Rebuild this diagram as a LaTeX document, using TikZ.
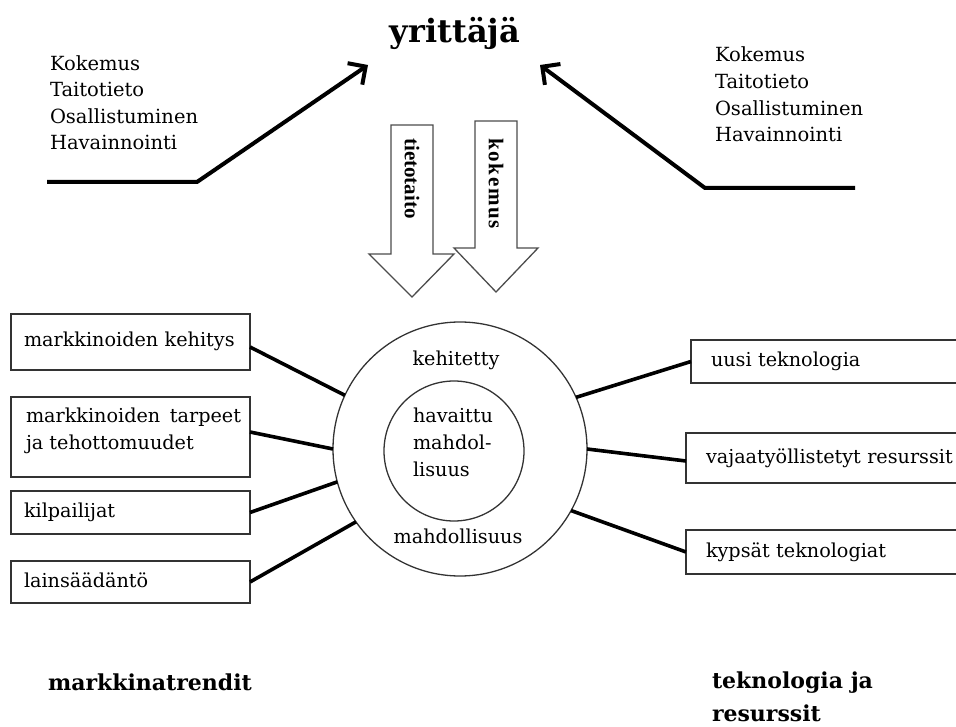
\documentclass[tikz,border=0pt]{standalone}
\usepackage{fontspec}
\setmainfont{DejaVu Serif}
\newfontfamily\arrowfont{Liberation Serif}
\newfontfamily\arrowfontwide{Liberation Serif}[LetterSpace=8]
\usetikzlibrary{arrows.meta,calc}
\begin{document}
\begin{tikzpicture}[x=1pt,y=-1pt,
  every node/.style={inner sep=0pt, outer sep=0pt, text=black},
  listtxt/.style={anchor=base west, font=\fontsize{19.5}{24}\selectfont},
  boxtxt/.style={font=\fontsize{19.2}{27}\selectfont},
  markbox/.style={draw=black!80, line width=1.3pt, rectangle, anchor=west,
    inner xsep=13pt, text width=213pt, align=left, text height=14pt, text depth=4pt,
    font=\fontsize{19.2}{27}\selectfont},
  techbox/.style={markbox, inner xsep=20pt, text width=260pt},
  ring/.style={draw=black!80, line width=1.3pt, circle},
  feed/.style={line width=4pt, black, line join=miter,
    -{Straight Barb[length=13pt,width=26pt,line width=4pt]}},
  link/.style={line width=3.6pt, black},
  blockarrow/.style={draw=black!70, line width=1.3pt, fill=white, line join=miter},
  arrowlabel/.style={rotate=-90},
  heading/.style={font=\bfseries\fontsize{22}{33}\selectfont, align=left},
]
\useasboundingbox (0,0) rectangle (956,727);
\clip (0,0) rectangle (956,727);

% title
\node[font=\bfseries\fontsize{32}{36}\selectfont, anchor=base] (title) at (455,43) {yrittäjä};

% experience lists
\node[listtxt] (kl1) at (50,70.5) {Kokemus};
\node[listtxt] (kl2) at (50,97) {Taitotieto};
\node[listtxt] (kl3) at (50,124) {Osallistuminen};
\node[listtxt] (kl4) at (50,150) {Havainnointi};
\node[listtxt] (kr1) at (715,62) {Kokemus};
\node[listtxt] (kr2) at (715,89) {Taitotieto};
\node[listtxt] (kr3) at (715,116) {Osallistuminen};
\node[listtxt] (kr4) at (715,142) {Havainnointi};

% feed lines towards the entrepreneur
\coordinate (lA) at (47,182);
\coordinate (lB) at (197,182);
\coordinate (lC) at (368,65);
\coordinate (rA) at (855,188);
\coordinate (rB) at (705,188);
\coordinate (rC) at (540,65);
\draw[feed] (lA) -- (lB) -- (lC);
\draw[feed] (rA) -- (rB) -- (rC);

% block arrows
\draw[blockarrow] (391,125) -- (433,125) -- (433,254) -- (454,254) -- (412,297)
  -- (369,254) -- (391,254) -- cycle;
\draw[blockarrow] (475,121) -- (517,121) -- (517,248) -- (538,248) -- (496,292)
  -- (454,248) -- (475,248) -- cycle;
\node[arrowlabel, font=\arrowfont\bfseries\fontsize{21}{22}\selectfont] (tt) at (412,178.5) {tietotaito};
\node[arrowlabel, font=\arrowfontwide\bfseries\fontsize{21}{22}\selectfont] (ko) at (496,183.5) {kokemus};

% opportunity rings
\node[ring, minimum size=254pt] (outer) at (460,449) {};
\node[ring, minimum size=140pt] (inner) at (454,451) {};
\node[boxtxt, anchor=base] (dev) at (456,365) {kehitetty};
\node[boxtxt, anchor=base] (opp) at (458,543) {mahdollisuus};
\node[boxtxt, anchor=north west, align=left] (seen) at (413,408)
  {havaittu\\mahdol-\\lisuus};

% market trend boxes
\node[markbox, minimum height=56pt] (b1) at (11,342) {\makebox[213pt][s]{markkinoiden kehitys}};
\node[markbox, minimum height=80pt] (b2) at (11,437) {};
\node[boxtxt, anchor=north west, align=left] (b2t) at (26,408)
  {\makebox[215pt][s]{markkinoiden tarpeet}\\ja tehottomuudet};
\node[markbox, minimum height=43pt] (b3) at (11,512.5) {kilpailijat};
\node[markbox, minimum height=42pt] (b4) at (11,582) {lainsäädäntö};

% technology boxes
\node[techbox, minimum height=43pt] (r1) at (691,361.5) {uusi teknologia};
\node[techbox, minimum height=50pt] (r2) at (686,458) {vajaatyöllistetyt resurssit};
\node[techbox, minimum height=44pt] (r3) at (686,552) {kypsät teknologiat};

% connectors
\draw[link] ([yshift=-5pt]b1.east) -- (outer.155);
\draw[link] ([yshift=5pt]b2.east) -- (outer.180);
\draw[link] (b3.east) -- (outer.195);
\draw[link] (b4.east) -- (outer.215);
\draw[link] (outer.24) -- (r1.west);
\draw[link] (outer.0) -- ([yshift=-3pt]r2.west);
\draw[link] (outer.-29) -- (r3.west);

% group headings
\node[heading, anchor=base west] (mt) at (48,690) {markkinatrendit};
\node[heading, anchor=north west] (tr) at (712,672) {teknologia ja\\resurssit};
\end{tikzpicture}
\end{document}
